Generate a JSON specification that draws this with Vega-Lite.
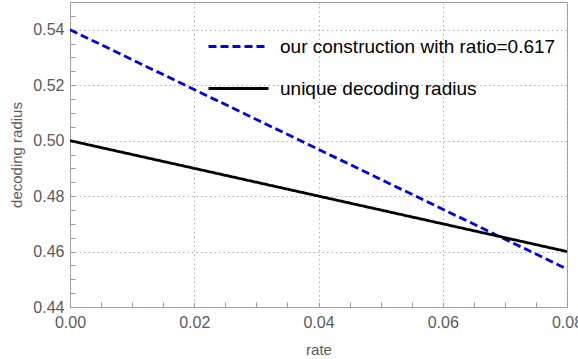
{
  "$schema": "https://vega.github.io/schema/vega-lite/v6.json",
  "width": 497,
  "height": 305,
  "autosize": "none",
  "padding": {"left": 70, "top": 2, "right": 11, "bottom": 52},
  "background": "white",
  "config": {
    "font": "Liberation Sans",
    "view": {"stroke": "#9a9a9a", "strokeWidth": 1}
  },
  "data": {
    "values": [
      {"rate": 0, "radius": 0.54, "series": "our construction with ratio=0.617"},
      {"rate": 0.08, "radius": 0.4537, "series": "our construction with ratio=0.617"},
      {"rate": 0, "radius": 0.5, "series": "unique decoding radius"},
      {"rate": 0.08, "radius": 0.46, "series": "unique decoding radius"}
    ]
  },
  "mark": {"type": "line", "strokeWidth": 2.8, "clip": true},
  "encoding": {
    "x": {
      "field": "rate",
      "type": "quantitative",
      "scale": {"domain": [0, 0.08], "nice": false, "zero": false},
      "axis": {
        "title": "rate",
        "values": [0, 0.005, 0.01, 0.015, 0.02, 0.025, 0.03, 0.035, 0.04, 0.045, 0.05, 0.055, 0.06, 0.065, 0.07, 0.075, 0.08],
        "labelExpr": "abs(datum.value*50 - round(datum.value*50)) < 0.001 ? format(datum.value, '.2f') : ''",
        "labelOverlap": false,
        "labelFlush": false,
        "labelFontSize": 16,
        "labelColor": "#5a5a5a",
        "labelPadding": 12,
        "titleFontSize": 15,
        "titleFontWeight": "normal",
        "titleColor": "#5a5a5a",
        "titlePadding": 12,
        "domain": false,
        "ticks": true,
        "tickColor": "#9a9a9a",
        "tickWidth": 1,
        "tickSize": -5,
        "grid": true,
        "gridColor": "#b0b0b0",
        "gridDash": [1.5, 3],
        "gridOpacity": {"condition": {"test": "abs(datum.value*50 - round(datum.value*50)) < 0.001", "value": 1}, "value": 0}
      }
    },
    "y": {
      "field": "radius",
      "type": "quantitative",
      "scale": {"domain": [0.44, 0.55], "nice": false, "zero": false},
      "axis": {
        "title": "decoding radius",
        "values": [0.44, 0.445, 0.45, 0.455, 0.46, 0.465, 0.47, 0.475, 0.48, 0.485, 0.49, 0.495, 0.5, 0.505, 0.51, 0.515, 0.52, 0.525, 0.53, 0.535, 0.54, 0.545, 0.55],
        "labelExpr": "abs(datum.value*50 - round(datum.value*50)) < 0.001 ? format(datum.value, '.2f') : ''",
        "labelOverlap": false,
        "labelFlush": false,
        "labelFontSize": 16,
        "labelColor": "#5a5a5a",
        "labelPadding": 11,
        "titleFontSize": 15,
        "titleFontWeight": "normal",
        "titleColor": "#5a5a5a",
        "titlePadding": 8,
        "domain": false,
        "ticks": true,
        "tickColor": "#9a9a9a",
        "tickWidth": 1,
        "tickSize": -5,
        "grid": true,
        "gridColor": "#b0b0b0",
        "gridDash": [1.5, 3],
        "gridOpacity": {"condition": {"test": "abs(datum.value*50 - round(datum.value*50)) < 0.001", "value": 1}, "value": 0}
      }
    },
    "color": {
      "field": "series",
      "type": "nominal",
      "scale": {"domain": ["our construction with ratio=0.617", "unique decoding radius"], "range": ["#0000ee", "#000000"]},
      "legend": {
        "title": null,
        "orient": "none",
        "legendX": 137,
        "legendY": 13,
        "labelFontSize": 19,
        "labelColor": "#000000",
        "labelOffset": 10,
        "symbolType": "stroke",
        "symbolSize": 3600,
        "symbolStrokeWidth": 2.8,
        "rowPadding": -8,
        "labelLimit": 400
      }
    },
    "strokeDash": {
      "field": "series",
      "type": "nominal",
      "scale": {"domain": ["our construction with ratio=0.617", "unique decoding radius"], "range": [[8, 4], [1, 0]]},
      "legend": null
    }
  }
}
